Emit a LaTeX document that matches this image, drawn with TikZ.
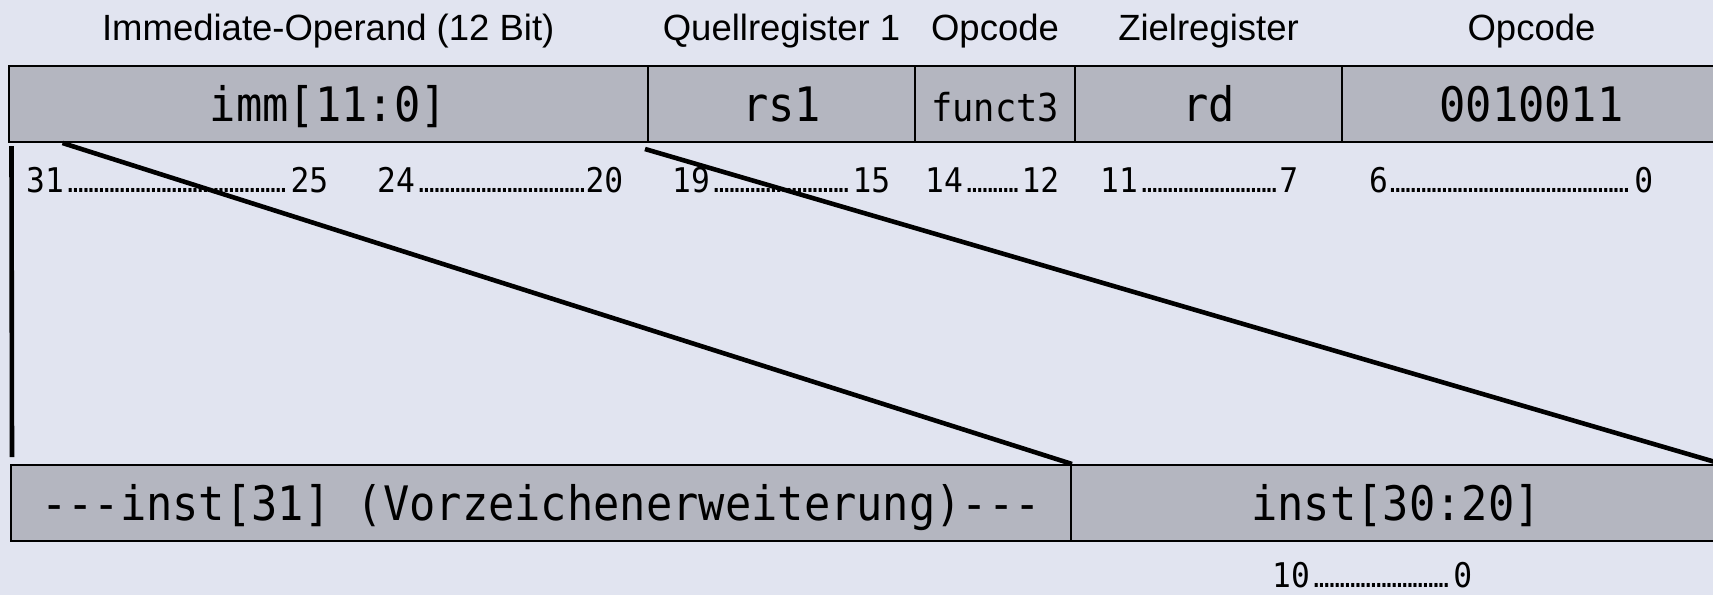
\documentclass[tikz,border=0pt]{standalone}
\usepackage{fontspec}
\setmainfont{Liberation Sans}
\newfontfamily\codefont[FakeStretch=0.92]{DejaVu Sans Mono}
\usetikzlibrary{calc}
\definecolor{pagebg}{RGB}{225,228,240}
\definecolor{fieldfill}{RGB}{180,182,192}
% dense dot leader between the two bit numbers of a range
\newcommand\bitdots{\leaders\hbox to 5.2pt{\hss\fontsize{27}{27}\selectfont.\hss}\hfill}
\newcommand\bitspan[3]{\hbox to #1{#2\bitdots#3}}
\newcommand\tripledash{-\kern0pt-\kern0pt-}
\begin{document}
\begin{tikzpicture}[x=1pt,y=-1pt,
  field/.style={draw=black, line width=2pt, fill=fieldfill, anchor=north west,
    minimum height=76pt, inner sep=0pt, text height=34pt, text depth=0pt,
    font=\codefont\fontsize{47.5}{47.5}\selectfont},
  head/.style={font=\fontsize{36.5}{36.5}\selectfont, inner sep=0pt},
  bits/.style={anchor=west, inner sep=0pt, font=\codefont\fontsize{34}{34}\selectfont},
  wire/.style={line width=4.6pt}]
\fill[pagebg] (0,0) rectangle (1713,595);
\useasboundingbox (0,0) rectangle (1713,595);

% instruction word (I-type)
\node[field, minimum width=639.5pt] (imm) at (7.5,65) {imm[11:0]};
\node[field, minimum width=267pt] (rs1) at (647,65) {rs1};
\node[field, minimum width=160pt, font=\codefont\fontsize{38.5}{38.5}\selectfont] (f3) at (914,65) {funct3};
\node[field, minimum width=267pt] (rd) at (1074,65) {rd};
\node[field, minimum width=379pt] (opc) at (1341,65) {0010011};

% field headings
\coordinate (hy) at (0,31);
\node[head] (himm) at (imm |- hy) {Immediate-Operand (12 Bit)};
\node[head] (hrs1) at (rs1 |- hy) {Quellregister 1};
\node[head] (hf3) at (f3 |- hy) {Opcode};
\node[head] (hrd) at (rd |- hy) {Zielregister};
\node[head] (hopc) at (opc |- hy) {Opcode};

% bit positions
\node[bits] (r31) at (26,180) {\bitspan{302pt}{31}{25}};
\node[bits] (r24) at (377,180) {\bitspan{246pt}{24}{20}};
\node[bits] (r19) at (672,180) {\bitspan{218pt}{19}{15}};
\node[bits] (r14) at (925,180) {\bitspan{134pt}{14}{12}};
\node[bits] (r11) at (1100,180) {\bitspan{198pt}{11}{7}};
\node[bits] (r6) at (1369,180) {\bitspan{284pt}{6}{0}};

% sign-extended immediate
\node[field, minimum width=1060pt] (sext) at (10,464) {\tripledash inst[31] (Vorzeichenerweiterung)\tripledash};
\node[field, minimum width=650pt] (low) at (1070,464) {inst[30:20]};
\node[bits] (r10) at (1272,575) {\bitspan{200pt}{10}{0}};

% mapping of the bits
\draw[wire] ($(imm.south west)+(55,0)$) -- (sext.north east);
\draw[wire] ($(imm.south east)+(-4,6)$) -- (low.north east);
\draw[wire] ($(imm.south west)+(4,3)$) -- ($(sext.north west)+(2,-7)$);
\end{tikzpicture}
\end{document}
